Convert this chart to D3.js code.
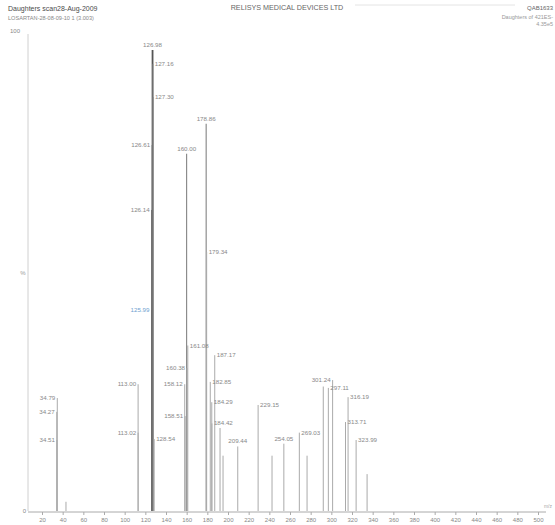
<!DOCTYPE html>
<html><head><meta charset="utf-8">
<script src="https://cdn.jsdelivr.net/npm/d3@7"></script>
<style>body{margin:0;background:#fff}svg{display:block}text{font-family:"Liberation Sans",Arial,sans-serif}</style>
</head><body>
<script>
// ---- data ----
const peakMz    = [34.27, 34.51, 34.79, 43.2, 113.00, 113.02, 125.99, 126.14, 126.61, 126.98, 127.16, 127.30, 128.54,
                   158.12, 158.51, 160.00, 160.38, 161.08, 178.86, 179.34, 182.85, 184.29, 184.42, 187.17, 192.3, 195.2,
                   209.44, 229.15, 242.6, 254.05, 269.03, 276.5, 292.2, 297.11, 301.24, 313.71, 316.19, 323.99, 334.6];
const peakInt   = [21.5, 15.4, 24.5, 2, 27.5, 17, 43.6, 65.3, 79.4, 100, 97, 89.8, 15.6,
                   27.5, 20.6, 77.5, 31, 35.9, 84, 56.2, 28, 23.6, 19, 33.8, 18, 12,
                   14, 23, 12, 14.6, 17, 12, 27, 26.7, 28.4, 19.3, 24.7, 15.4, 8];
const peakLabel = ["34.27","34.51","34.79","","113.00","113.02","125.99","126.14","126.61","126.98","127.16","127.30","128.54",
                   "158.12","158.51","160.00","160.38","161.08","178.86","179.34","182.85","184.29","184.42","187.17","","",
                   "209.44","229.15","","254.05","269.03","","","297.11","301.24","313.71","316.19","323.99",""];
const labelSide = ["l","l","l","","l","l","l","l","l","c","r","r","r",
                   "l","l","c","l","r","c","r","r","r","r","r","","",
                   "c","r","","c","r","","","r","l","r","r","r",""];
const xTicks = d3.range(20, 501, 20);
const yTickLabels = ["0", "100"];
const headerLeft = ["Daughters scan28-Aug-2009", "LOSARTAN-28-08-09-10 1 (3.003)"];
const headerCenter = "RELISYS MEDICAL DEVICES LTD";
const headerRight = ["QAB1633", "Daughters of 421ES-", "4.35e5"];

// ---- drawing ----
const W = 555, H = 525;
const svg = d3.select("body").append("svg").attr("width", W).attr("height", H);
const x = d3.scaleLinear().domain([20, 500]).range([42, 538]);
const y = d3.scaleLinear().domain([0, 100]).range([511, 50]);

// header
svg.append("text").attr("x", 8).attr("y", 11).attr("font-size", 7).attr("fill", "#4a4a4a").text(headerLeft[0]);
svg.append("text").attr("x", 8).attr("y", 20).attr("font-size", 5.6).attr("fill", "#888").text(headerLeft[1]);
svg.append("text").attr("x", 287).attr("y", 10).attr("font-size", 7.2).attr("fill", "#666").attr("text-anchor", "middle").text(headerCenter);
svg.append("line").attr("x1", 355).attr("x2", 515).attr("y1", 5).attr("y2", 5).attr("stroke", "#e4e4e4");
svg.append("text").attr("x", 553).attr("y", 10).attr("font-size", 6).attr("fill", "#666").attr("text-anchor", "end").text(headerRight[0]);
svg.append("text").attr("x", 553).attr("y", 19).attr("font-size", 5.5).attr("fill", "#999").attr("text-anchor", "end").text(headerRight[1]);
svg.append("text").attr("x", 553).attr("y", 26).attr("font-size", 5.5).attr("fill", "#999").attr("text-anchor", "end").text(headerRight[2]);

// y axis
svg.append("line").attr("x1", 28).attr("x2", 28).attr("y1", 34).attr("y2", y(0)).attr("stroke", "#d0d0d0");
svg.append("text").attr("x", 20).attr("y", 33).attr("font-size", 6).attr("fill", "#888").attr("text-anchor", "end").text(yTickLabels[1]);
svg.append("text").attr("x", 26).attr("y", y(0) + 2).attr("font-size", 6).attr("fill", "#888").attr("text-anchor", "end").text(yTickLabels[0]);
svg.append("text").attr("x", 23).attr("y", 275).attr("font-size", 6).attr("fill", "#999").attr("text-anchor", "middle").text("%");

// x axis
const xAxis = d3.axisBottom(x).tickValues(xTicks).tickSize(3).tickFormat(d3.format("d"));
const gx = svg.append("g").attr("transform", `translate(0,${y(0)+1})`).call(xAxis);
gx.select(".domain").remove();
gx.selectAll(".tick line").attr("stroke", "#aaa");
gx.selectAll(".tick text").attr("font-size", 6).attr("fill", "#888").attr("dy", "0.6em").style("font-family", '"Liberation Sans",Arial,sans-serif');
svg.append("line").attr("x1", 28).attr("x2", 546).attr("y1", y(0) + 1).attr("y2", y(0) + 1).attr("stroke", "#aaa");
svg.append("text").attr("x", 552).attr("y", y(0) - 3).attr("font-size", 5).attr("fill", "#aaa").attr("text-anchor", "end").text("m/z");

// peaks
const peaks = peakMz.map((m, i) => ({mz: m, v: peakInt[i], label: peakLabel[i], side: labelSide[i]}));
svg.append("g").selectAll("line").data(peaks).join("line")
  .attr("x1", d => x(d.mz)).attr("x2", d => x(d.mz))
  .attr("y1", y(0)).attr("y2", d => y(d.v))
  .attr("stroke", d => d.v === 100 ? "#555" : d.v >= 60 ? "#777" : "#aaa")
  .attr("stroke-width", d => d.v === 100 ? 1.8 : 1);

svg.append("g").selectAll("text").data(peaks.filter(d => d.label)).join("text")
  .attr("x", d => d.side === "l" ? x(d.mz) - 2 : d.side === "r" ? x(d.mz) + 2 : x(d.mz))
  .attr("y", d => d.side === "c" ? y(d.v) - 3 : y(d.v) + 2)
  .attr("text-anchor", d => d.side === "l" ? "end" : d.side === "r" ? "start" : "middle")
  .attr("font-size", 6.2)
  .attr("fill", d => d.label === "125.99" ? "#6f9fd0" : "#888")
  .text(d => d.label);
</script>
</body></html>
